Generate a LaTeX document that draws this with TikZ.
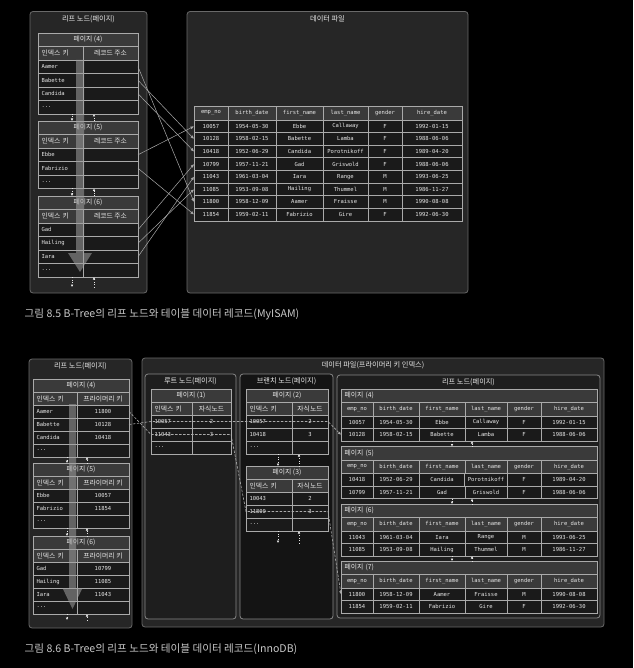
\documentclass[tikz,border=0pt]{standalone}
\usepackage{fontspec}
\setmainfont{Noto Sans CJK KR}
\newfontfamily\monofont{DejaVu Sans Mono}
\usetikzlibrary{arrows.meta,positioning}

\definecolor{panelfill}{RGB}{38,38,38}
\definecolor{innerfill}{RGB}{30,30,30}
\definecolor{branchfill}{RGB}{20,20,20}
\definecolor{panelline}{RGB}{105,105,105}
\definecolor{cellfill}{RGB}{26,26,26}
\definecolor{cellline}{RGB}{170,170,170}
\definecolor{hdrfill}{RGB}{58,58,58}
\definecolor{inkwhite}{RGB}{232,232,232}
\definecolor{capgray}{RGB}{200,200,200}

% box from (x0,y0) to (x1,y1), y grows downwards
\newcommand\boxat[7][]{%
  \pgfmathsetmacro\cellw{(#5)-(#3)}%
  \pgfmathsetmacro\cellh{(#6)-(#4)}%
  \pgfmathsetmacro\cellt{(#5)-(#3)-7}%
  \node[#1,minimum width=\cellw pt,minimum height=\cellh pt] (#2) at ({((#3)+(#5))/2},{((#4)+(#6))/2}) {#7};}
\newcommand\tcell[7][]{\boxat[cellbox,#1]{#2}{#3}{#4}{#5}{#6}{#7}}
\newcommand\dotsrow{...}

% two-column index page: prefix, top, title, right header, key/value rows
\newcommand\keypage[5]{%
  \tcell[hdr,kor]{#1h}{\xa}{#2}{\xc}{#2+\rh}{#3}
  \tcell[hdr,kor,keyl]{#1a}{\xa}{#2+\rh}{\xb}{#2+2*\rh}{인덱스 키}
  \tcell[hdr,kor]{#1b}{\xb}{#2+\rh}{\xc}{#2+2*\rh}{#4}
  \foreach \k/\v [count=\i] in {#5}{
    \tcell[keyl]{#1k\i}{\xa}{#2+(\i+1)*\rh}{\xb}{#2+(\i+2)*\rh}{\k}
    \tcell{#1v\i}{\xb}{#2+(\i+1)*\rh}{\xc}{#2+(\i+2)*\rh}{\v}
  }}

% record table: header row and data rows
\newcommand\colhead[3]{%
  \foreach \c [count=\j] in {emp\_no,birth\_date,first\_name,last\_name,gender,hire\_date}{
    \pgfmathsetmacro\xl{\colxs[\j-1]}\pgfmathsetmacro\xr{\colxs[\j]}
    \tcell[hdr]{#1c\j}{\xl}{#2}{\xr}{#3}{\c}}}
\newcommand\recrows[4]{%
  \foreach \r [count=\i] in {#4}{
    \foreach \c [count=\j] in \r{
      \pgfmathsetmacro\xl{\colxs[\j-1]}\pgfmathsetmacro\xr{\colxs[\j]}
      \tcell{#1r\i-\j}{\xl}{#2+(\i-1)*#3}{\xr}{#2+\i*#3}{\c}}}}
\newcommand\leafpage[3]{%
  \tcell[hdr,kor,keyl]{P#1h}{341}{#2}{597}{#2+13.5}{페이지 (#1)}
  \colhead{P#1}{#2+13.5}{#2+27}
  \recrows{P#1}{#2+27}{12.5}{#3}}

\tikzset{
  panel/.style={draw=panelline,fill=panelfill,rounded corners=3pt,line width=0.8pt,inner sep=0pt,outer sep=0pt},
  subpanel/.style={panel,fill=innerfill,draw=panelline!80!white},
  ptitle/.style={text=inkwhite,inner sep=0pt,font=\fontsize{7.2}{8}\selectfont},
  cellbox/.style={draw=cellline,fill=cellfill,line width=0.6pt,inner xsep=3.5pt,inner ysep=0pt,outer sep=0pt,
    text=inkwhite,font=\monofont\fontsize{5.5}{6}\selectfont},
  hdr/.style={fill=hdrfill},
  kor/.style={font=\fontsize{6.8}{7}\selectfont},
  keyl/.style={text width=\cellt pt,align=left},
  reclink/.style={draw=cellline,line width=0.5pt,-{Latex[length=3.5pt,width=3pt]}},
  pagelink/.style={draw=inkwhite,line width=0.5pt,dotted,-{Latex[length=2.5pt,width=2.5pt]}},
  searchpath/.style={draw=cellline,line width=0.6pt,dash pattern=on 2.5pt off 1.5pt,-{Latex[length=3pt,width=3pt]}},
  scan/.style={fill=gray!75!white,opacity=0.55},
  caption/.style={text=capgray,anchor=west,inner sep=0pt,font=\fontsize{10.6}{12}\selectfont}
}

\begin{document}
\begin{tikzpicture}[x=1pt,y=-1pt]
\fill[black] (0,0) rectangle (633,668);
\useasboundingbox (0,0) rectangle (633,668);

% ---- figure 8.5 (MyISAM)
\boxat[panel]{LP}{30}{11.5}{147}{293}{}
\boxat[panel]{FP}{187}{11.5}{468}{293}{}
\node[ptitle,below=3.5pt of LP.north] (LPt) {리프 노드(페이지)};
\node[ptitle,below=3.5pt of FP.north] (FPt) {데이터 파일};

\def\xa{38}\def\xb{83}\def\xc{138}\def\rh{13.5}
\keypage{A4}{33}{페이지 (4)}{레코드 주소}{Aamer/{},Babette/{},Candida/{},\dotsrow/{}}
\keypage{A5}{121}{페이지 (5)}{레코드 주소}{Ebbe/{},Fabrizio/{},\dotsrow/{}}
\keypage{A6}{196}{페이지 (6)}{레코드 주소}{Gad/{},Hailing/{},Iara/{},\dotsrow/{}}
\fill[scan] (76,60) -- (84,60) -- (84,253) -- (92,253) -- (80,272) -- (68,253) -- (76,253) -- cycle;

\draw[pagelink] ([xshift=-11pt]A4k4.south east) -- ([xshift=-16pt]A5h.north);
\draw[pagelink] ([xshift=6pt]A5h.north) -- ([xshift=11pt]A4v4.south west);
\draw[pagelink] ([xshift=-11pt]A5k3.south east) -- ([xshift=-16pt]A6h.north);
\draw[pagelink] ([xshift=6pt]A6h.north) -- ([xshift=11pt]A5v3.south west);
\coordinate (A6out) at (72,287);
\coordinate (A6in) at (94,287);
\draw[pagelink] ([xshift=-11pt]A6k4.south east) -- (A6out);
\draw[pagelink] (A6in) -- ([xshift=11pt]A6v4.south west);

\def\colxs{{194,228,276,323,368,402,462}}
\colhead{T}{106}{120}
\recrows{T}{120}{12.6}{{10057,1954-05-30,Ebbe,Callaway,F,1992-01-15},
  {10128,1958-02-15,Babette,Lamba,F,1988-06-06},
  {10418,1952-06-29,Candida,Porotnikoff,F,1989-04-20},
  {10799,1957-11-21,Gad,Griswold,F,1988-06-06},
  {11043,1961-03-04,Iara,Range,M,1993-06-25},
  {11085,1953-09-08,Hailing,Thummel,M,1986-11-27},
  {11800,1958-12-09,Aamer,Fraisse,M,1990-08-08},
  {11854,1959-02-11,Fabrizio,Gire,F,1992-06-30}}

\draw[reclink] (A4v1.east) -- (Tr7-1.west);
\draw[reclink] (A4v2.east) -- (Tr2-1.west);
\draw[reclink] (A4v3.east) -- (Tr3-1.west);
\draw[reclink] (A5v1.east) -- (Tr1-1.west);
\draw[reclink] (A5v2.east) -- (Tr8-1.west);
\draw[reclink] (A6v1.east) -- (Tr4-1.west);
\draw[reclink] (A6v2.east) -- (Tr6-1.west);
\draw[reclink] (A6v3.east) -- (Tr5-1.west);

\node[caption] (cap85) at (24.5,314) {그림 8.5 B-Tree의 리프 노드와 테이블 데이터 레코드(MyISAM)};

% ---- figure 8.6 (InnoDB)
\boxat[panel]{LQ}{29}{359}{132}{628}{}
\boxat[panel]{FQ}{142}{358}{604}{627}{}
\boxat[subpanel]{RQ}{145}{374}{236}{619}{}
\boxat[subpanel,fill=branchfill]{NQ}{240}{374}{333}{619}{}
\boxat[subpanel]{PQ}{337}{375}{600}{618}{}
\node[ptitle,below=3.5pt of LQ.north] (LQt) {리프 노드(페이지)};
\node[ptitle,below=3.5pt of FQ.north] (FQt) {데이터 파일(프라이머리 키 인덱스)};
\node[ptitle,below=3.5pt of RQ.north] (RQt) {루트 노드(페이지)};
\node[ptitle,below=3.5pt of NQ.north] (NQt) {브랜치 노드(페이지)};
\node[ptitle,below=3.5pt of PQ.north] (PQt) {리프 노드(페이지)};

\def\xa{33}\def\xb{77}\def\xc{129}\def\rh{13}
\keypage{B4}{379}{페이지 (4)}{프라이머리 키}{Aamer/11800,Babette/10128,Candida/10418,\dotsrow/{}}
\keypage{B5}{463}{페이지 (5)}{프라이머리 키}{Ebbe/10057,Fabrizio/11854,\dotsrow/{}}
\keypage{B6}{536}{페이지 (6)}{프라이머리 키}{Gad/10799,Hailing/11085,Iara/11043,\dotsrow/{}}
\fill[scan] (69,404) -- (76,404) -- (76,588) -- (82.5,588) -- (72.5,609) -- (62.5,588) -- (69,588) -- cycle;

\draw[pagelink] ([xshift=-10pt]B4k4.south east) -- ([xshift=-14pt]B5h.north);
\draw[pagelink] ([xshift=6pt]B5h.north) -- ([xshift=10pt]B4v4.south west);
\draw[pagelink] ([xshift=-10pt]B5k3.south east) -- ([xshift=-14pt]B6h.north);
\draw[pagelink] ([xshift=6pt]B6h.north) -- ([xshift=10pt]B5v3.south west);
\coordinate (B6out) at (67,620);
\coordinate (B6in) at (87,620);
\draw[pagelink] ([xshift=-10pt]B6k4.south east) -- (B6out);
\draw[pagelink] (B6in) -- ([xshift=10pt]B6v4.south west);

\def\xa{151}\def\xb{192}\def\xc{231}
\keypage{R1}{389}{페이지 (1)}{자식노드}{10057/2,11043/3,\dotsrow/{}}
\def\xa{246}\def\xb{292}\def\xc{328}
\keypage{N2}{389}{페이지 (2)}{자식노드}{10057/2,10418/3,\dotsrow/{}}
\keypage{N3}{466}{페이지 (3)}{자식노드}{10043/2,11800/3,\dotsrow/{}}
\draw[pagelink] ([xshift=-14pt]N2k3.south east) -- ([xshift=-9pt]N3h.north);
\draw[pagelink] ([xshift=12pt]N3h.north) -- ([xshift=7pt]N2v3.south west);
\coordinate (N3out) at (278,543);
\coordinate (N3in) at (299,543);
\draw[pagelink] ([xshift=-14pt]N3k3.south east) -- (N3out);
\draw[pagelink] (N3in) -- ([xshift=7pt]N3v3.south west);

\def\colxs{{341,373,419,465,507,541,597}}
\leafpage{4}{389}{{10057,1954-05-30,Ebbe,Callaway,F,1992-01-15},
  {10128,1958-02-15,Babette,Lamba,F,1988-06-06}}
\leafpage{5}{446.5}{{10418,1952-06-29,Candida,Porotnikoff,F,1989-04-20},
  {10799,1957-11-21,Gad,Griswold,F,1988-06-06}}
\leafpage{6}{504}{{11043,1961-03-04,Iara,Range,M,1993-06-25},
  {11085,1953-09-08,Hailing,Thummel,M,1986-11-27}}
\leafpage{7}{561}{{11800,1958-12-09,Aamer,Fraisse,M,1990-08-08},
  {11854,1959-02-11,Fabrizio,Gire,F,1992-06-30}}
\foreach \a/\b in {4/5,5/6,6/7}{
  \draw[pagelink] ([xshift=10pt]P\a r2-3.south) -- ([xshift=-17pt]P\b h.north);
  \draw[pagelink] ([xshift=3pt]P\b h.north) -- ([xshift=7pt]P\a r2-4.south west);
}

\draw[searchpath] (B4v2.east) -- (R1k1.west) -- (R1v1.east) -- (N2k1.west) -- (N2v1.east) -- (P4r2-1.west);
\draw[searchpath] (B4v1.east) -- (R1k2.west) -- (R1v2.east) -- (N3k2.west) -- (N3v2.east) -- (P7r1-1.west);

\node[caption] (cap86) at (24.5,649) {그림 8.6 B-Tree의 리프 노드와 테이블 데이터 레코드(InnoDB)};
\end{tikzpicture}
\end{document}
